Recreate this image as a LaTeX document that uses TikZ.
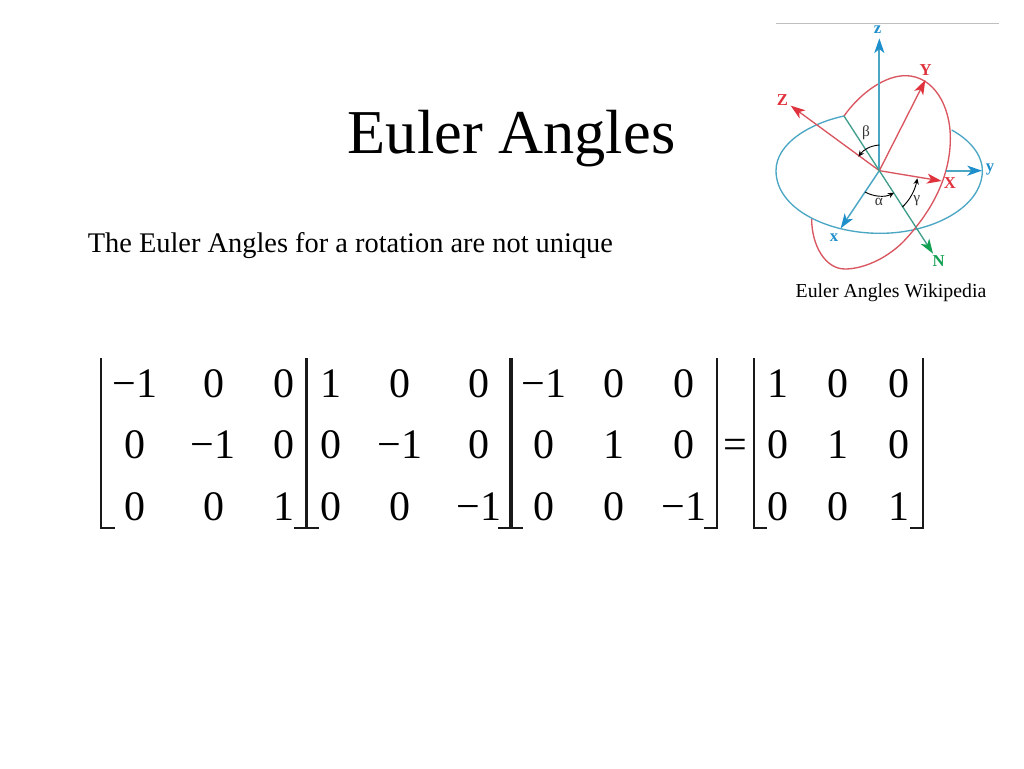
\documentclass[tikz,border=0pt]{standalone}
\usepackage{fontspec}
\setmainfont{Liberation Serif}
\usetikzlibrary{arrows.meta}
\definecolor{ringblue}{HTML}{4BA6C4}
\definecolor{ringred}{HTML}{D9555F}
\definecolor{axisblue}{HTML}{1E8FCB}
\definecolor{axisred}{HTML}{E0323C}
\definecolor{axisgreen}{HTML}{12A052}
\definecolor{nodeline}{HTML}{3F9E8C}
\tikzset{
	entry/.style={anchor=base, inner sep=0pt, font=\fontsize{31.5}{34}\selectfont},
	bracket/.style={line width=1.5pt, line cap=butt, color=black!90},
	sharedbracket/.style={line width=2.3pt, color=black!90},
	axislabel/.style={inner sep=0pt, font=\fontsize{12.5}{14}\selectfont\bfseries},
	anglelabel/.style={inner sep=0pt, font=\fontsize{11.5}{13}\selectfont, color=black!80},
	bluearrow/.style={line width=1.1pt, color=ringblue, -{Stealth[length=11pt, width=7.5pt, inset=3pt, color=axisblue]}},
	redarrow/.style={line width=1pt, color=ringred, -{Stealth[length=11pt, width=7.5pt, inset=3pt, color=axisred]}},
	greenarrow/.style={line width=1pt, color=nodeline, -{Stealth[length=11pt, width=7.5pt, inset=3pt, color=axisgreen]}},
	anglearc/.style={line width=0.7pt, black, -{Stealth[length=4.5pt, width=4pt]}},
	ring/.style={line width=1pt},
}
\begin{document}
\begin{tikzpicture}[x=0.75pt, y=-0.75pt]
			%%%%% START %%%%%
			\fill[white] (0, 0) rectangle (1024, 768);
			\useasboundingbox (0, 0) rectangle (1024, 768);
			
			\node[inner sep=0pt, anchor=base, font=\fontsize{46.8}{50}\selectfont] (title) at (511.5, 153) {Euler Angles};
			\node[inner sep=0pt, anchor=base west, font=\fontsize{21.3}{24}\selectfont] (claim) at (87.5, 252) {The Euler Angles for a rotation are not unique};
			\node[inner sep=0pt, anchor=base, font=\fontsize{14.85}{17}\selectfont] (caption) at (891, 297) {Euler Angles Wikipedia};
			
			% matrix entries
			\foreach \col/\r/\val in {135/397/−1, 214/397/0, 284/397/0, 135/458/0, 213/458/−1, 284/458/0, 135/520/0, 214/520/0, 284/520/1,
				331/397/1, 400/397/0, 479/397/0, 331/458/0, 400/458/−1, 479/458/0, 331/520/0, 400/520/0, 479/520/−1,
				544/397/−1, 614/397/0, 684/397/0, 544/458/0, 614/458/1, 684/458/0, 544/520/0, 614/520/0, 684/520/−1,
				778/397/1, 838/397/0, 899/397/0, 778/458/0, 838/458/1, 899/458/0, 778/520/0, 838/520/0, 899/520/1}
				\node[entry] (e\col\r) at (\col, \r) {\val};
			\node[entry] (equals) at (735.5, 458) {=};
			
			% brackets
			\draw[bracket] (101, 358) -- (101, 527.5) -- (114.5, 527.5);
			\draw[sharedbracket] (306.5, 358) -- (306.5, 527.5);
			\draw[bracket] (294, 527.5) -- (319, 527.5);
			\draw[sharedbracket] (511, 358) -- (511, 527.5);
			\draw[bracket] (498, 527.5) -- (523, 527.5);
			\draw[bracket] (717, 358) -- (717, 527.5) -- (703.5, 527.5);
			\draw[bracket] (753.5, 358) -- (753.5, 527.5) -- (767, 527.5);
			\draw[bracket] (923, 358) -- (923, 527.5) -- (909.5, 527.5);
			
			% inset, in units of a third of a pixel
			\begin{scope}[shift={(770, 15)}, x=0.25pt, y=-0.25pt]
				\draw[line width=0.5pt, color=black!25] (18, 25) -- (687, 25);
				
				\coordinate (O) at (328, 467);
				\coordinate (tipz) at (328, 70);
				\coordinate (tipY) at (466, 195);
				\coordinate (tipZ) at (62, 272);
				\coordinate (tipX) at (515, 498);
				\coordinate (tailY) at (527, 467);
				\coordinate (tipy) at (636, 467);
				\coordinate (tipx) at (212, 640);
				\coordinate (tailN) at (222, 303);
				\coordinate (tipN) at (489, 716);
				
				% rings
				\draw[ring, color=ringblue] (tailN) .. controls (120, 325) and (18, 385) .. (18, 467)
					.. controls (18, 580) and (170, 655) .. (330, 655)
					.. controls (490, 655) and (637, 575) .. (637, 467)
					.. controls (637, 420) and (600, 375) .. (545, 345);
				\draw[ring, color=ringred] (tailN) .. controls (270, 235) and (345, 180) .. (410, 182)
					.. controls (490, 185) and (541, 270) .. (541, 370)
					.. controls (541, 480) and (490, 585) .. (400, 680)
					.. controls (345, 735) and (275, 762) .. (225, 762)
					.. controls (165, 762) and (125, 690) .. (125, 612);
				
				% axes
				\draw[bluearrow, line width=1.5pt] (O) -- (tipz);
				\draw[bluearrow, line width=1.5pt] (tailY) -- (tipy);
				\draw[bluearrow] (O) -- (tipx);
				\draw[redarrow] (O) -- (tipY);
				\draw[redarrow] (O) -- (tipZ);
				\draw[redarrow] (O) -- (tipX);
				\draw[greenarrow] (tailN) -- (tipN);
				
				% angles
				\draw[anglearc] (328, 390) .. controls (300, 392) and (280, 405) .. (265, 425);
				\draw[anglearc] (285, 531) .. controls (310, 545) and (345, 548) .. (372, 533);
				\draw[anglearc] (397, 576) .. controls (420, 555) and (435, 525) .. (442, 490);
				
				\node[axislabel, color=axisblue] (labelz) at (323, 43) {z};
				\node[axislabel, color=axisblue] (labely) at (660, 464) {y};
				\node[axislabel, color=axisblue] (labelx) at (192, 669) {x};
				\node[axislabel, color=axisred] (labelY) at (467, 165) {Y};
				\node[axislabel, color=axisred] (labelZ) at (37, 255) {Z};
				\node[axislabel, color=axisred] (labelX) at (540, 505) {X};
				\node[axislabel, color=axisgreen] (labelN) at (506, 738) {N};
				\node[anglelabel] (beta) at (288, 353) {β};
				\node[anglelabel] (alpha) at (327, 562) {α};
				\node[anglelabel] (gamma) at (440, 557) {γ};
			\end{scope}
			%%%%% END %%%%%
\end{tikzpicture}
\end{document}
